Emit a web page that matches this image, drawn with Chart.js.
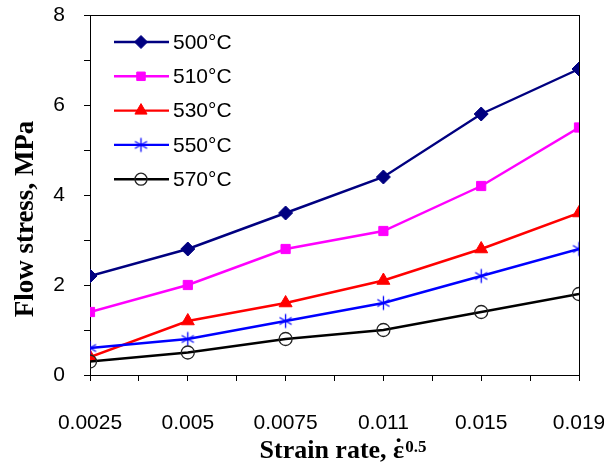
<!DOCTYPE html>
<html>
<head>
<meta charset="utf-8">
<script src="https://cdn.jsdelivr.net/npm/chart.js@4.4.0/dist/chart.umd.min.js"></script>
<style>
html,body{margin:0;padding:0;background:#fff;}
canvas{display:block;}
</style>
</head>
<body>
<canvas id="c" width="604" height="465"></canvas>
<script>
// ---- data ----
const strainRates = ["0.0025", "0.005", "0.0075", "0.011", "0.015", "0.019"];
const seriesLabels = ["500°C", "510°C", "530°C", "550°C", "570°C"];
const stress500 = [2.2, 2.8, 3.6, 4.4, 5.8, 6.8];
const stress510 = [1.4, 2.0, 2.8, 3.2, 4.2, 5.5];
const stress530 = [0.4, 1.2, 1.6, 2.1, 2.8, 3.6];
const stress550 = [0.6, 0.8, 1.2, 1.6, 2.2, 2.8];
const stress570 = [0.3, 0.5, 0.8, 1.0, 1.4, 1.8];
const yTicks = [0, 2, 4, 6, 8];
const yTitle = "Flow stress, MPa";
const xTitleMain = "Strain rate, ";
const xTitleSymbol = "ε";
const xTitleDot = "\u02D9";
const xTitleSup = "0.5";

// Excel-like asterisk marker (vertical + X)
function makeStar(color) {
  const s = 17, c = document.createElement('canvas');
  c.width = s; c.height = s;
  const g = c.getContext('2d');
  g.strokeStyle = color; g.lineWidth = 1.3;
  const m = s / 2, r = 7;
  g.beginPath();
  g.moveTo(m, m - r); g.lineTo(m, m + r);
  const dx = r * Math.cos(Math.PI / 6), dy = r * Math.sin(Math.PI / 6);
  g.moveTo(m - dx, m - dy); g.lineTo(m + dx, m + dy);
  g.moveTo(m - dx, m + dy); g.lineTo(m + dx, m - dy);
  g.stroke();
  return c;
}

const allSeries = [stress500, stress510, stress530, stress550, stress570];
const colors = ["#000080", "#FF00FF", "#FF0000", "#0000FF", "#000000"];
const styles = ["rectRot", "rect", "triangle", makeStar("#0000FF"), "circle"];
const radii = [7, 6.5, 7.5, 7, 6.5];
const fills = ["#000080", "#FF00FF", "#FF0000", "#0000FF", "rgba(0,0,0,0)"];

const datasets = allSeries.map((vals, i) => ({
  label: seriesLabels[i],
  data: vals.map((v, k) => ({ x: k, y: v })),
  borderColor: colors[i],
  backgroundColor: fills[i],
  pointBackgroundColor: fills[i],
  pointBorderColor: i === 4 ? "#222" : colors[i],
  pointBorderWidth: i === 4 ? 1.3 : 1,
  borderWidth: 2.4,
  pointStyle: styles[i],
  pointRadius: radii[i],
  pointHoverRadius: radii[i],
  tension: 0,
  order: 4 - i
}));

function zeroPad(s) { s.paddingTop = 0; s.paddingBottom = 0; s.paddingLeft = 0; s.paddingRight = 0; }

const framePlugin = {
  id: 'frame',
  beforeDatasetsDraw(chart) {
    const a = chart.chartArea, ctx = chart.ctx;
    ctx.save();
    ctx.strokeStyle = '#000';
    ctx.lineWidth = 1;
    ctx.strokeRect(Math.round(a.left) + 0.5, Math.round(a.top) + 0.5,
                   Math.round(a.right - a.left), Math.round(a.bottom - a.top));
    ctx.restore();
  },
  afterDraw(chart) {
    const ctx = chart.ctx;
    ctx.save();
    // legend
    const lx0 = 114, lx1 = 169, mx = 141, tx = 173, y0 = 42, dy = 34.3;
    chart.data.datasets.forEach((ds, i) => {
      const y = y0 + i * dy;
      ctx.strokeStyle = ds.borderColor;
      ctx.lineWidth = ds.borderWidth;
      ctx.beginPath(); ctx.moveTo(lx0, y); ctx.lineTo(lx1, y); ctx.stroke();
      ctx.fillStyle = ds.pointBackgroundColor;
      ctx.strokeStyle = ds.pointBorderColor;
      ctx.lineWidth = ds.pointBorderWidth;
      Chart.helpers.drawPoint(ctx, { pointStyle: ds.pointStyle, radius: ds.pointRadius - 0.5, rotation: 0, borderWidth: ds.pointBorderWidth }, mx, y);
      ctx.fillStyle = '#000';
      ctx.font = '21px "Liberation Sans", Arial, sans-serif';
      ctx.textAlign = 'left';
      ctx.textBaseline = 'middle';
      ctx.fillText(ds.label, tx, y + 1);
    });
    // y title
    ctx.fillStyle = '#000';
    ctx.font = 'bold 27px "Liberation Serif", "Times New Roman", serif';
    ctx.translate(33, 219);
    ctx.rotate(-Math.PI / 2);
    ctx.textAlign = 'center';
    ctx.textBaseline = 'alphabetic';
    ctx.fillText(yTitle, 0, 0);
    ctx.restore();
    // x title with superscript
    ctx.save();
    ctx.fillStyle = '#000';
    ctx.textBaseline = 'alphabetic';
    ctx.textAlign = 'left';
    const mainFont = 'bold 26px "Liberation Serif", "Times New Roman", serif';
    const supFont = 'bold 17px "Liberation Serif", "Times New Roman", serif';
    ctx.font = mainFont;
    const w1 = ctx.measureText(xTitleMain).width;
    const wE = ctx.measureText(xTitleSymbol).width;
    ctx.font = supFont;
    const w2 = ctx.measureText(xTitleSup).width;
    const start = 343 - (w1 + wE + w2 + 1) / 2;
    ctx.font = mainFont;
    ctx.fillText(xTitleMain, start, 458);
    ctx.fillText(xTitleSymbol, start + w1, 458);
    ctx.textAlign = 'center';
    ctx.fillText(xTitleDot, start + w1 + wE / 2, 456);
    ctx.textAlign = 'left';
    ctx.font = supFont;
    ctx.fillText(xTitleSup, start + w1 + wE + 1, 452);
    ctx.restore();
  }
};

new Chart(document.getElementById('c'), {
  type: 'line',
  data: { datasets },
  options: {
    responsive: false,
    animation: false,
    events: [],
    layout: { padding: { left: 0, right: 25, top: 15, bottom: 0 } },
    plugins: { legend: { display: false }, tooltip: { enabled: false } },
    scales: {
      x: {
        type: 'linear',
        min: 0, max: strainRates.length - 1,
        afterFit(s) { s.height = 90; zeroPad(s); },
        afterBuildTicks(s) {
          const t = [];
          for (let v = 0; v <= strainRates.length - 1 + 1e-9; v += 0.5) t.push({ value: v });
          s.ticks = t;
        },
        ticks: {
          autoSkip: false,
          maxRotation: 0,
          padding: 30,
          color: '#000',
          font: { family: '"Liberation Sans", Arial, sans-serif', size: 21 },
          callback: (v) => Number.isInteger(v) ? strainRates[v] : ''
        },
        grid: { drawOnChartArea: false, drawTicks: true, tickLength: 6, color: '#000', lineWidth: 1 },
        border: { display: true, color: '#000', width: 1 }
      },
      y: {
        type: 'linear',
        min: yTicks[0], max: yTicks[yTicks.length - 1],
        afterFit(s) { s.width = 90; zeroPad(s); },
        ticks: {
          stepSize: 1,
          padding: 19,
          color: '#000',
          font: { family: '"Liberation Sans", Arial, sans-serif', size: 21 },
          callback: (v) => yTicks.includes(v) ? String(v) : ''
        },
        grid: { drawOnChartArea: false, drawTicks: true, tickLength: 6, color: '#000', lineWidth: 1 },
        border: { display: true, color: '#000', width: 1 }
      }
    }
  },
  plugins: [framePlugin]
});
</script>
</body>
</html>
